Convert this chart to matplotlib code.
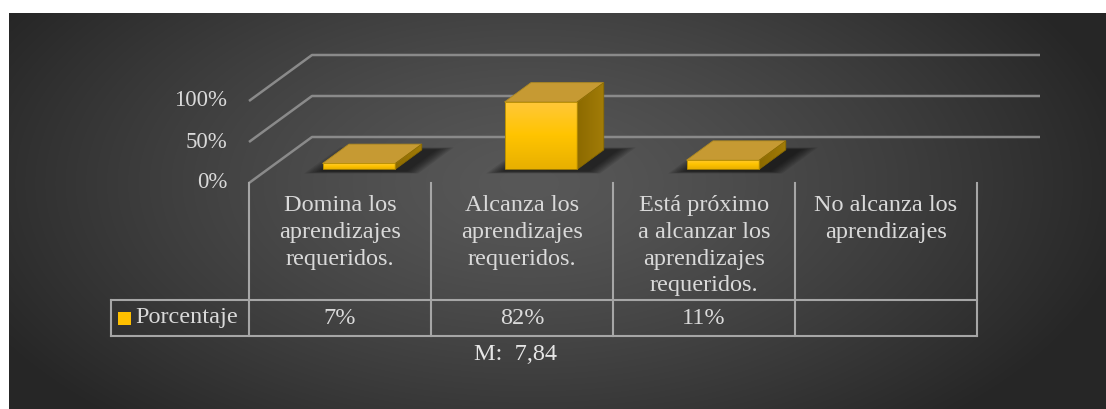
import numpy as np
import matplotlib
matplotlib.use("Agg")
import matplotlib.pyplot as plt
from matplotlib.patches import Polygon, Rectangle

# datos del grafico
categorias = ["Domina los\naprendizajes\nrequeridos.",
              "Alcanza los\naprendizajes\nrequeridos.",
              "Está próximo\na alcanzar los\naprendizajes\nrequeridos.",
              "No alcanza los\naprendizajes"]
valores = [0.07, 0.82, 0.11, 0.0]
etiquetas_valor = ["7%", "82%", "11%", ""]
serie = "Porcentaje"
ticks_y = [0.0, 0.5, 1.0]
ticks_txt = ["0%", "50%", "100%"]
nota = "M:  7,84"

plt.rcParams['font.family'] = ['Liberation Serif', 'DejaVu Serif']

W, H = 1106, 409
fig = plt.figure(figsize=(W / 100, H / 100), dpi=100)
fig.patch.set_facecolor("white")

# fondo con degradado radial
bg = fig.add_axes([9 / W, 0, 1 - 9 / W, (H - 13) / H])
bg.axis("off")
yy, xx = np.mgrid[0:396, 0:1097]
r = np.sqrt(((xx - 520) / 620.0) ** 2 + ((yy - 170) / 330.0) ** 2)
g = np.clip(0.345 - 0.2 * r ** 1.3, 0.15, 0.4)
bg.imshow(np.dstack([g, g, g]), aspect="auto", extent=[0, 1, 0, 1])

# eje principal (coordenadas: x en categorias, y en fraccion)
PX, PY = 182.0, 82.0  # pixeles por unidad
X0, Y0 = 249.0, 183.0
left, right, top, bottom = 100, 1045, 40, 365
ax = fig.add_axes([left / W, (H - bottom) / H, (right - left) / W, (bottom - top) / H])
ax.set_xlim((left - X0) / PX, (right - X0) / PX)
ax.set_ylim((Y0 - bottom) / PY, (Y0 - top) / PY)
ax.axis("off")

DX, DY = 63 / PX, 46 / PY  # desplazamiento de profundidad


def proj(x, y, d):
    return x + DX * d, y + DY * d


n = len(categorias)
grid_col = "#8a8a8a"
for t in ticks_y:
    p0 = proj(0, t, 0)
    p1 = proj(0, t, 1)
    p2 = proj(n, t, 1)
    ax.plot([p0[0], p1[0], p2[0]], [p0[1], p1[1], p2[1]], color=grid_col, lw=1.8,
            solid_capstyle="butt", zorder=1)
for t, s in zip(ticks_y, ticks_txt):
    ax.text(-0.12, t, s, ha="right", va="center", fontsize=16.5, color="#d9d9d9")

# barras 3D
ancho, d0, d1 = 0.4, 0.3, 0.72
grad = np.linspace(0, 1, 64).reshape(-1, 1)
cmap = matplotlib.colors.LinearSegmentedColormap.from_list(
    "oro", ["#e8b000", "#ffc400", "#ffc83a"])
cmap_lado = matplotlib.colors.LinearSegmentedColormap.from_list(
    "oro2", ["#8c6a00", "#a27c08"])
for i, v in enumerate(valores):
    if v <= 0:
        continue
    xa, xb = i + 0.5 - ancho / 2, i + 0.5 + ancho / 2
    # sombra difusa sobre el piso
    for k in range(8):
        e = 0.011 * (8 - k)
        sh = 0.05
        pts = [proj(xa - e, 0, d0 - 0.04 - e * 0.6), proj(xb + sh + e, 0, d0 - 0.04 - e * 0.6),
               proj(xb + sh + e, 0, d1 + e * 0.6), proj(xa - e, 0, d1 + e * 0.6)]
        pts = [(px + 0.02, py) for px, py in pts]
        ax.add_patch(Polygon(pts, closed=True, facecolor="black",
                             edgecolor="none", alpha=0.09, zorder=2))
    # cara lateral
    lado = Polygon([proj(xb, 0, d0), proj(xb, 0, d1), proj(xb, v, d1), proj(xb, v, d0)],
                   closed=True, facecolor="none", edgecolor="#8a6a00", lw=0.6, zorder=5)
    ax.add_patch(lado)
    lx0, _ = proj(xb, 0, d0)
    lx1, _ = proj(xb, 0, d1)
    im2 = ax.imshow(grad.T, cmap=cmap_lado, aspect="auto", origin="lower",
                    extent=[lx0, lx1, proj(0, 0, d0)[1], proj(0, v, d1)[1]], zorder=3)
    im2.set_clip_path(lado)
    # cara superior
    tapa = [proj(xa, v, d0), proj(xb, v, d0), proj(xb, v, d1), proj(xa, v, d1)]
    ax.add_patch(Polygon(tapa, closed=True, facecolor="#c69a33", edgecolor="#b08a20",
                         lw=0.6, zorder=3))
    # cara frontal con degradado
    fx0, fy0 = proj(xa, 0, d0)
    fx1, fy1 = proj(xb, v, d0)
    frente = Rectangle((fx0, fy0), fx1 - fx0, fy1 - fy0, facecolor="none",
                       edgecolor="#b08800", lw=0.6, zorder=5)
    ax.add_patch(frente)
    im = ax.imshow(grad, cmap=cmap, aspect="auto", origin="lower",
                   extent=[fx0, fx1, fy0, fy1], zorder=4)
    im.set_clip_path(frente)

ax.set_xlim((left - X0) / PX, (right - X0) / PX)
ax.set_ylim((Y0 - bottom) / PY, (Y0 - top) / PY)

# tabla de datos
tab_col = "#a6a6a6"
y_top = (Y0 - 300) / PY
y_bot = (Y0 - 336) / PY
x_leg = (111 - X0) / PX
for i in range(n + 1):
    ax.plot([i, i], [0, y_bot], color=tab_col, lw=1.5, zorder=1)
ax.plot([x_leg, n], [y_top, y_top], color=tab_col, lw=1.5, zorder=1)
ax.plot([x_leg, n], [y_bot, y_bot], color=tab_col, lw=1.5, zorder=1)
ax.plot([x_leg, x_leg], [y_top, y_bot], color=tab_col, lw=1.5, zorder=1)

for i, c in enumerate(categorias):
    ax.text(i + 0.5, (Y0 - 195) / PY, c, ha="center", va="top", fontsize=17.5,
            color="#d9d9d9", linespacing=1.36)
y_mid = (y_top + y_bot) / 2
for i, s in enumerate(etiquetas_valor):
    ax.text(i + 0.5, y_mid, s, ha="center", va="center", fontsize=17.5, color="#d9d9d9")

ax.add_patch(Rectangle(((118 - X0) / PX, (Y0 - 325) / PY), 13 / PX, 13 / PY,
                       facecolor="#ffc000", edgecolor="none", zorder=3))
ax.text((135 - X0) / PX, y_mid, serie, ha="left", va="center", fontsize=17.5, color="#d9d9d9")

fig.text(515 / W, 1 - 354 / H, nota, ha="center", va="center", fontsize=17.5,
         color="#e6e6e6")

fig.savefig("out.png", dpi=100)
